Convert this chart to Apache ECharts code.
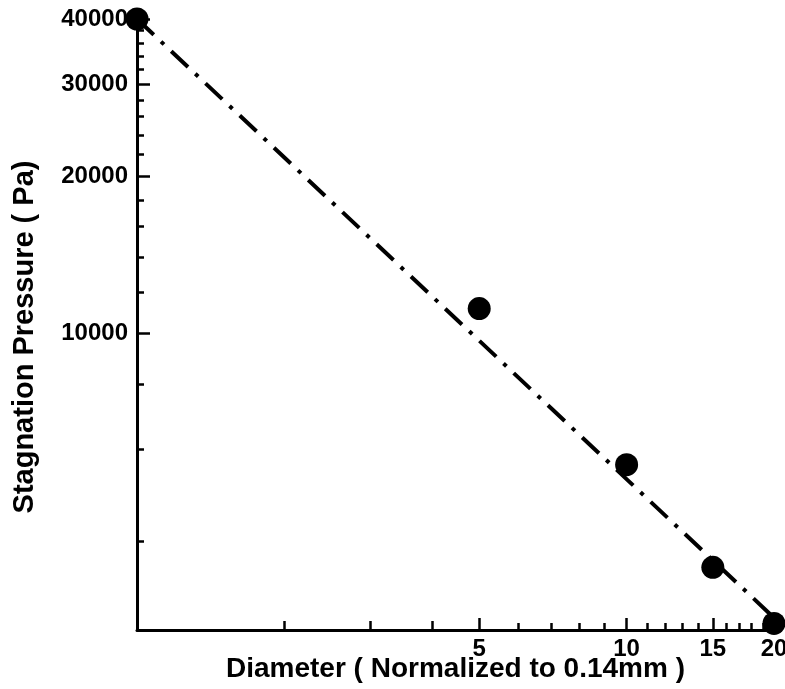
<!DOCTYPE html>
<html>
<head>
<meta charset="utf-8">
<script src="https://cdn.jsdelivr.net/npm/echarts@6/dist/echarts.min.js"></script>
<style>
html,body{margin:0;padding:0;background:#fff;}
#c{width:785px;height:689px;}
</style>
</head>
<body>
<div id="c"></div>
<script>
// data
const diameter = [1, 5, 10, 15, 20];
const pressure = [40000, 11150, 5600, 3560, 2780];
const fitDiameter = [1, 20];
const fitPressure = [40000, 2850];
// ticks
const xLabelTicks = [5, 10, 15, 20];
const xMidTicks = [2, 3, 4];
const xMinorTicks = [6, 7, 8, 9, 11, 12, 13, 14, 16, 17, 18, 19];
const yLabelTicks = [10000, 20000, 30000, 40000];
const yMinorTicks = [4000, 6000, 8000, 12000, 14000, 16000, 18000, 22000, 24000, 26000, 28000, 32000, 34000, 36000, 38000];
const xTitle = 'Diameter ( Normalized to 0.14mm )';
const yTitle = 'Stagnation Pressure ( Pa)';

const FONT = 'Liberation Sans, Arial, Helvetica, sans-serif';
const X_MIN = 1, X_MAX = 20, Y_MIN = 2700, Y_MAX = 40000;
const gridBox = {left: 137, right: 11, top: 19, bottom: 59, containLabel: false, outerBoundsMode: 'none'};

function xAx(gridIndex, ticks, len, showLabel, showLine) {
  return {
    type: 'log', logBase: 10, gridIndex, min: X_MIN, max: X_MAX, position: 'bottom',
    axisLine: {show: showLine, onZero: false, lineStyle: {color: '#000', width: 3}},
    axisTick: {show: true, inside: true, length: len, customValues: ticks, lineStyle: {color: '#000', width: 2.5}},
    axisLabel: showLabel ? {show: true, customValues: ticks, margin: 7, color: '#000', fontSize: 24, fontWeight: 'bold', fontFamily: FONT, formatter: v => String(Math.round(v))} : {show: false},
    splitLine: {show: false}, minorTick: {show: false}, minorSplitLine: {show: false},
    name: showLabel ? xTitle : '', nameLocation: 'middle', nameGap: 25, nameMoveOverlap: false,
    nameTextStyle: {color: '#000', fontSize: 28, fontWeight: 'bold', fontFamily: FONT}
  };
}
function yAx(gridIndex, ticks, len, showLabel, showLine) {
  return {
    type: 'log', logBase: 10, gridIndex, min: Y_MIN, max: Y_MAX, position: 'left',
    axisLine: {show: showLine, onZero: false, lineStyle: {color: '#000', width: 3}},
    axisTick: {show: ticks.length > 0, inside: true, length: len, customValues: ticks, lineStyle: {color: '#000', width: 2.5}},
    axisLabel: showLabel ? {show: true, customValues: ticks, margin: 9, color: '#000', fontSize: 24, fontWeight: 'bold', fontFamily: FONT, formatter: v => String(Math.round(v))} : {show: false},
    splitLine: {show: false}, minorTick: {show: false}, minorSplitLine: {show: false}
  };
}

const chart = echarts.init(document.getElementById('c'), null, {renderer: 'canvas'});
chart.setOption({
  backgroundColor: '#fff',
  animation: false,
  grid: [Object.assign({}, gridBox), Object.assign({}, gridBox), Object.assign({}, gridBox)],
  xAxis: [xAx(0, xLabelTicks, 12, true, true), xAx(1, xMidTicks, 9, false, false), xAx(2, xMinorTicks, 7, false, false)],
  yAxis: [yAx(0, yLabelTicks, 13, true, true), yAx(1, yMinorTicks, 7, false, false), yAx(2, [], 0, false, false)],
  graphic: [{
    type: 'text', x: 25, y: 337, rotation: Math.PI / 2,
    style: {text: yTitle, fill: '#000', fontSize: 29, fontWeight: 'bold', fontFamily: FONT, align: 'center', verticalAlign: 'middle'}
  }],
  series: [
    {
      type: 'line', xAxisIndex: 0, yAxisIndex: 0,
      data: fitDiameter.map((d, i) => [d, fitPressure[i]]),
      symbol: 'none', clip: false,
      lineStyle: {color: '#000', width: 4, type: [23, 10, 4, 10], cap: 'butt'},
      z: 2
    },
    {
      type: 'scatter', xAxisIndex: 0, yAxisIndex: 0,
      data: diameter.map((d, i) => [d, pressure[i]]),
      symbol: 'circle', symbolSize: 23, clip: false,
      itemStyle: {color: '#000', opacity: 1},
      z: 3
    }
  ]
});
</script>
</body>
</html>
